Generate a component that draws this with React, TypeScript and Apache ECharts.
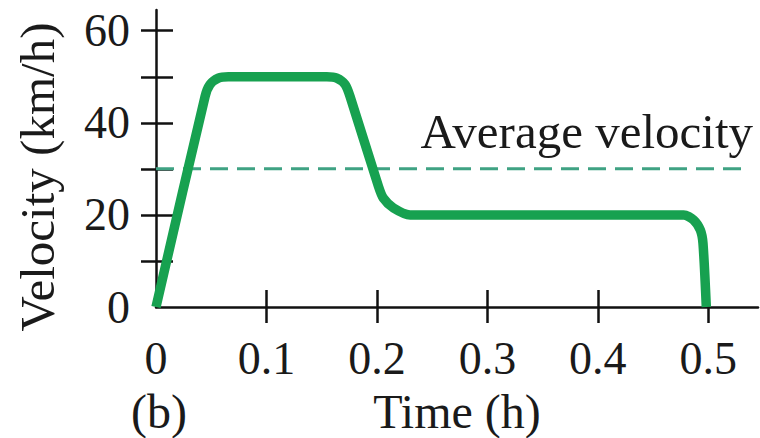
import React, { useEffect, useRef } from "react";
import * as echarts from "echarts";

const timeH = [
  0, 0.0444, 0.0489, 0.0564, 0.0655, 0.1546, 0.1637, 0.1712, 0.1757, 0.2014, 0.2059, 0.215, 0.2301, 0.4777,
  0.4867, 0.4928, 0.4952, 0.4982,
];
const velocityKmh = [0, 45.7, 48.3, 49.7, 50, 50, 49.7, 48.3, 45.7, 26.2, 23.6, 21.5, 20, 20, 18.9, 16.7, 13.8, 0];
const averageVelocity = 30;
const averageLineEnd = 0.536;
const xTickValues = [0.1, 0.2, 0.3, 0.4, 0.5];
const xLabelValues = [0, 0.1, 0.2, 0.3, 0.4, 0.5];
const yTickValues = [10, 20, 30, 40, 50, 60];
const yLabelValues = [0, 20, 40, 60];

const FONT = "'Liberation Serif', 'Times New Roman', serif";
const GREEN = "#17a150";
const DASH = "#3fa283";

export default function App() {
  const ref = useRef<HTMLDivElement>(null);
  useEffect(() => {
    document.body.style.margin = "0";
    if (!ref.current) return;
    const chart = echarts.init(ref.current, undefined, { renderer: "svg" });
    const xFmt = (v: number) => (v === 0 ? "0" : v.toFixed(1));
    const axisCommonX = { type: "value", min: 0, max: 0.545, gridIndex: 0 };
    const axisCommonY = { type: "value", min: 0, max: 64.5, gridIndex: 0 };
    chart.setOption({
      animation: false,
      backgroundColor: "#ffffff",
      grid: { left: 156, right: 2, top: 10, bottom: 131, containLabel: false },
      xAxis: [
        {
          ...axisCommonX,
          axisLine: { show: true, onZero: false, lineStyle: { color: "#111", width: 2.5 } },
          axisTick: { show: true, length: 16, customValues: xTickValues, lineStyle: { color: "#111", width: 2.5 } },
          axisLabel: {
            show: true,
            customValues: xLabelValues,
            formatter: xFmt,
            margin: 28,
            color: "#1a1a1a",
            fontFamily: FONT,
            fontSize: 46,
          },
          splitLine: { show: false },
        },
        {
          ...axisCommonX,
          position: "bottom",
          axisLine: { show: false, onZero: false },
          axisTick: { show: true, inside: true, length: 17, customValues: xTickValues, lineStyle: { color: "#111", width: 2.5 } },
          axisLabel: { show: false },
          splitLine: { show: false },
        },
      ],
      yAxis: [
        {
          ...axisCommonY,
          axisLine: { show: true, onZero: false, lineStyle: { color: "#111", width: 2.5 } },
          axisTick: { show: true, length: 15, customValues: yTickValues, lineStyle: { color: "#111", width: 2.5 } },
          axisLabel: {
            show: true,
            customValues: yLabelValues,
            margin: 26,
            color: "#1a1a1a",
            fontFamily: FONT,
            fontSize: 46,
          },
          splitLine: { show: false },
        },
        {
          ...axisCommonY,
          position: "left",
          axisLine: { show: false, onZero: false },
          axisTick: { show: true, inside: true, length: 17, customValues: yTickValues, lineStyle: { color: "#111", width: 2.5 } },
          axisLabel: { show: false },
          splitLine: { show: false },
        },
      ],
      series: [
        {
          type: "line",
          xAxisIndex: 0,
          yAxisIndex: 0,
          data: [
            [0, averageVelocity],
            [averageLineEnd, averageVelocity],
          ],
          symbol: "none",
          lineStyle: { color: DASH, width: 3, type: [18, 9] },
          silent: true,
          z: 2,
        },
        {
          type: "line",
          xAxisIndex: 0,
          yAxisIndex: 0,
          data: timeH.map((t, i) => [t, velocityKmh[i]]),
          symbol: "none",
          smooth: 0.25,
          lineStyle: { color: GREEN, width: 9.5, cap: "butt", join: "round" },
          silent: true,
          clip: false,
          z: 3,
        },
      ],
      graphic: [
        {
          type: "text",
          x: 753,
          y: 131,
          style: {
            text: "Average velocity",
            font: `49px ${FONT}`,
            fill: "#1a1a1a",
            textAlign: "right",
            textVerticalAlign: "middle",
          },
        },
        {
          type: "text",
          x: 457,
          y: 411,
          style: {
            text: "Time (h)",
            font: `48px ${FONT}`,
            fill: "#1a1a1a",
            textAlign: "center",
            textVerticalAlign: "middle",
          },
        },
        {
          type: "text",
          x: 159,
          y: 411,
          style: {
            text: "(b)",
            font: `48px ${FONT}`,
            fill: "#1a1a1a",
            textAlign: "center",
            textVerticalAlign: "middle",
          },
        },
        {
          type: "text",
          x: 37,
          y: 177,
          rotation: Math.PI / 2,
          style: {
            text: "Velocity (km/h)",
            font: `49px ${FONT}`,
            fill: "#1a1a1a",
            textAlign: "center",
            textVerticalAlign: "middle",
          },
        },
      ],
    });
    return () => chart.dispose();
  }, []);
  return <div ref={ref} style={{ width: 760, height: 438 }} />;
}
